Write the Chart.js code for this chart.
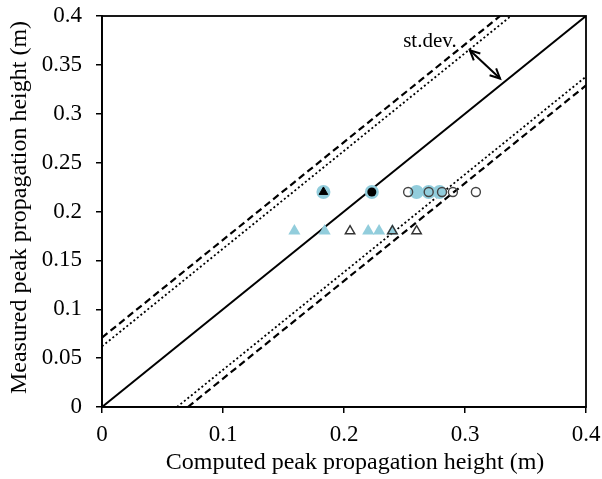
<!DOCTYPE html>
<html>
<head>
<meta charset="utf-8">
<script src="https://cdn.jsdelivr.net/npm/chart.js@4/dist/chart.umd.min.js"></script>
<style>
html,body{margin:0;padding:0;background:#fff;}
#wrap{width:602px;height:479px;}
</style>
</head>
<body>
<div id="wrap"><canvas id="c" width="602" height="479"></canvas></div>
<script>
// ---- data ----
const xTicks = [0, 0.1, 0.2, 0.3, 0.4];
const yTicks = [0, 0.05, 0.1, 0.15, 0.2, 0.25, 0.3, 0.35, 0.4];
const xTitle = 'Computed peak propagation height (m)';
const yTitle = 'Measured peak propagation height (m)';

// upper row (measured 0.22)
const blueCirclesX = [0.183, 0.223, 0.260, 0.270, 0.279];
const blueCirclesY = [0.22, 0.22, 0.22, 0.22, 0.22];
const openCirclesX = [0.253, 0.270, 0.281, 0.290, 0.309];
const openCirclesY = [0.22, 0.22, 0.22, 0.22, 0.22];
const blackTriX = [0.183];
const blackTriY = [0.22];
const blackDotX = [0.223];
const blackDotY = [0.22];
// lower row (measured 0.18)
const blueTriX = [0.159, 0.184, 0.220, 0.229, 0.240];
const blueTriY = [0.18, 0.18, 0.18, 0.18, 0.18];
const openTriX = [0.205, 0.240, 0.260];
const openTriY = [0.18, 0.18, 0.18];

// reference lines
const axisMax = 0.4;
const sdDashed = 0.071;
const sdDotted = 0.062;

// annotation
const arrowFrom = [0.304, 0.365];
const arrowTo = [0.329, 0.336];
const noteText = 'st.dev.';
const notePos = [0.271, 0.374];

const pts = (xs, ys) => xs.map((x, i) => ({x: x, y: ys[i]}));
const band = (o) => [{x: 0, y: o}, {x: axisMax - o, y: axisMax}];
const bandLow = (o) => [{x: o, y: 0}, {x: axisMax, y: axisMax - o}];

const BLUE = '#92CDDC';
const SERIF = '"Liberation Serif", "Times New Roman", serif';

const lineDs = (data, dash, w) => ({
  data: data, showLine: true, borderColor: '#000', borderWidth: w,
  borderDash: dash, pointRadius: 0, fill: false, order: 10
});

function shiftTitle(s, dx, dy) {
  if (s._titleShifted) return;
  s._titleShifted = true;
  const orig = s.drawTitle.bind(s);
  s.drawTitle = function () {
    const ctx = s.ctx;
    ctx.save();
    ctx.translate(dx, dy);
    orig();
    ctx.restore();
  };
}

const framePlugin = {
  id: 'frame',
  afterDatasetsDraw(chart) {
    const {ctx, chartArea: a, scales} = chart;
    ctx.save();
    ctx.strokeStyle = '#000';
    ctx.lineWidth = 1.8;
    ctx.strokeRect(a.left, a.top, a.right - a.left, a.bottom - a.top);
    // arrow
    const x1 = scales.x.getPixelForValue(arrowFrom[0]);
    const y1 = scales.y.getPixelForValue(arrowFrom[1]);
    const x2 = scales.x.getPixelForValue(arrowTo[0]);
    const y2 = scales.y.getPixelForValue(arrowTo[1]);
    ctx.lineWidth = 2;
    ctx.beginPath(); ctx.moveTo(x1, y1); ctx.lineTo(x2, y2); ctx.stroke();
    const head = (xa, ya, xb, yb) => {
      const ang = Math.atan2(ya - yb, xa - xb);
      const L = 11, s = 0.45;
      ctx.beginPath();
      ctx.moveTo(xa - L * Math.cos(ang - s), ya - L * Math.sin(ang - s));
      ctx.lineTo(xa, ya);
      ctx.lineTo(xa - L * Math.cos(ang + s), ya - L * Math.sin(ang + s));
      ctx.stroke();
    };
    head(x1, y1, x2, y2);
    head(x2, y2, x1, y1);
    ctx.fillStyle = '#000';
    ctx.font = '21px ' + SERIF;
    ctx.textAlign = 'center';
    ctx.textBaseline = 'middle';
    ctx.fillText(noteText, scales.x.getPixelForValue(notePos[0]), scales.y.getPixelForValue(notePos[1]));
    ctx.restore();
  }
};

new Chart(document.getElementById('c'), {
  type: 'scatter',
  data: {
    datasets: [
      {data: pts(blackDotX, blackDotY), pointStyle: 'circle', pointRadius: 4.5, backgroundColor: '#000', borderColor: '#000', borderWidth: 0, order: 0},
      {data: pts(blackTriX, blackTriY), pointStyle: 'triangle', pointRadius: 5, backgroundColor: '#000', borderColor: '#000', borderWidth: 1, order: 0},
      {data: pts(openCirclesX, openCirclesY), pointStyle: 'circle', pointRadius: 4.5, backgroundColor: 'rgba(0,0,0,0)', borderColor: '#444', borderWidth: 1.4, order: 1},
      {data: pts(openTriX, openTriY), pointStyle: 'triangle', pointRadius: 5.5, backgroundColor: 'rgba(0,0,0,0)', borderColor: '#333', borderWidth: 1.4, order: 1},
      {data: pts(blueCirclesX, blueCirclesY), pointStyle: 'circle', pointRadius: 7, backgroundColor: BLUE, borderColor: BLUE, borderWidth: 0, order: 2},
      {data: pts(blueTriX, blueTriY), pointStyle: 'triangle', pointRadius: 7, backgroundColor: BLUE, borderColor: BLUE, borderWidth: 0, order: 2},
      lineDs([{x: 0, y: 0}, {x: axisMax, y: axisMax}], [], 2),
      lineDs(band(sdDashed), [7, 4], 2.2),
      lineDs(bandLow(sdDashed), [7, 4], 2.2),
      lineDs(band(sdDotted), [2, 2.5], 1.8),
      lineDs(bandLow(sdDotted), [2, 2.5], 1.8)
    ]
  },
  options: {
    responsive: false,
    animation: false,
    devicePixelRatio: 1,
    layout: {padding: {top: 16, right: 16, left: 0, bottom: 0}},
    plugins: {legend: {display: false}, tooltip: {enabled: false}},
    scales: {
      x: {
        type: 'linear', min: 0, max: axisMax,
        afterBuildTicks: (s) => { s.ticks = xTicks.map(v => ({value: v})); },
        afterFit: (s) => { s.height = 72; s.paddingLeft = 0; s.paddingRight = 0; shiftTitle(s, 11, 0); },
        grid: {drawOnChartArea: false, drawTicks: true, tickLength: 6, color: '#000', lineWidth: 1.5},
        border: {display: true, color: '#000', width: 1.8},
        ticks: {color: '#000', padding: 8, font: {family: SERIF, size: 23}, callback: (v) => String(v)},
        title: {display: true, text: xTitle, color: '#000', font: {family: SERIF, size: 24}, padding: {top: 0, bottom: 2}}
      },
      y: {
        type: 'linear', min: 0, max: axisMax,
        afterBuildTicks: (s) => { s.ticks = yTicks.map(v => ({value: v})); },
        afterFit: (s) => { s.width = 102; s.paddingTop = 0; s.paddingBottom = 0; shiftTitle(s, 0, -4); },
        grid: {drawOnChartArea: false, drawTicks: true, tickLength: 6, color: '#000', lineWidth: 1.5},
        border: {display: true, color: '#000', width: 1.8},
        ticks: {color: '#000', padding: 14, font: {family: SERIF, size: 23}, callback: (v) => String(v)},
        title: {display: true, text: yTitle, color: '#000', font: {family: SERIF, size: 24}, padding: {top: 5, bottom: 0}}
      }
    }
  },
  plugins: [framePlugin]
});
</script>
</body>
</html>
